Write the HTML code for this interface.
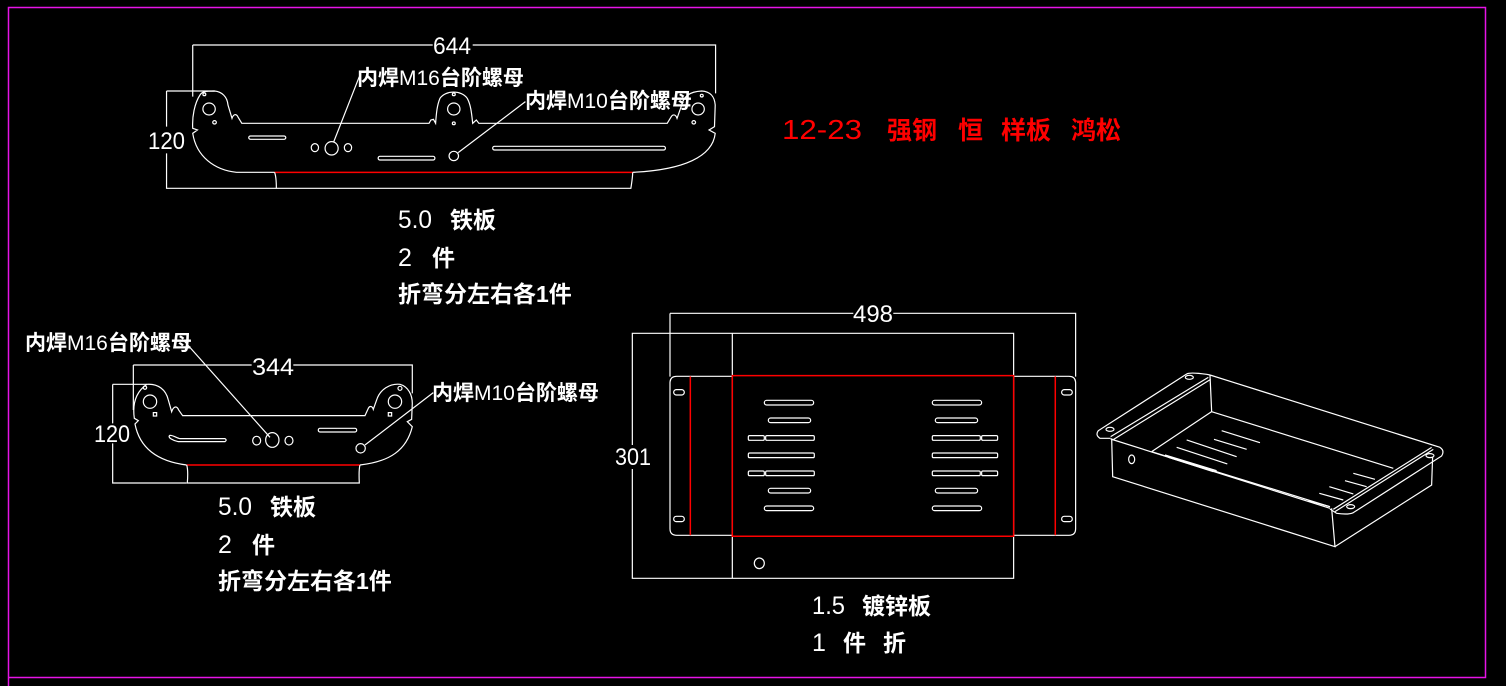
<!DOCTYPE html>
<html><head><meta charset="utf-8"><style>
html,body{margin:0;padding:0;background:#000;width:1506px;height:686px;overflow:hidden}
svg{display:block}
text{font-family:"Liberation Sans","Noto Sans CJK SC",sans-serif}
.w{fill:none;stroke:#fff;stroke-width:1.2;vector-effect:non-scaling-stroke}
.r{fill:none;stroke:#f00;stroke-width:1.5;vector-effect:non-scaling-stroke}
.t{fill:#fff;font-size:21px;font-weight:bold}
.l{font-weight:normal}
.tb{fill:#fff;font-size:23px;font-weight:bold}
.n{fill:#fff;font-size:25px;font-family:"Liberation Sans Narrow","Liberation Sans",sans-serif}
.d{fill:#fff;font-size:24px;font-family:"Liberation Sans Narrow","Liberation Sans",sans-serif}
</style></head><body>
<svg width="1506" height="686" viewBox="0 0 1506 686">
<rect x="0" y="0" width="1506" height="686" fill="#000"/>
<path d="M8.5 686 V7.5 H1485.5 V677.5 H8.5" fill="none" stroke="#e614e6" stroke-width="1.5"/>

<!-- Top plate -->
<g transform="translate(160,30) scale(0.3636,0.3333)">
<path class="w" d="M90 45 H750 M860 45 H1528 V190 M90 45 V200"/>
<path class="w" d="M18 183 H150 M18 183 V290 M18 370 V475 H320"/>
<path class="w" d="M315 427 H210 C150 420 100 380 90 310 L103 300 L90 295 C88 260 95 220 110 195 C115 185 125 183 150 183 C170 185 185 200 187 225 L198 265 C202 252 210 250 215 262 L225 280 H740 L745 270 L752 268 L758 280 C760 250 762 225 770 205 C785 180 830 180 845 205 C855 225 857 250 860 280 L870 270 L877 280 H1395 L1405 262 C1410 252 1418 252 1422 265 L1435 225 C1440 200 1455 185 1490 183 C1515 185 1525 200 1527 225 L1525 290 L1510 300 L1527 310 C1520 380 1440 420 1300 427"/>
<path class="r" d="M315 427 H1300"/>
<path class="w" d="M315 427 Q320 440 320 475 H1295 Q1300 440 1300 427"/>
<ellipse class="w" cx="135" cy="237" rx="17" ry="18"/><ellipse class="w" cx="150" cy="277" rx="5" ry="5"/><ellipse class="w" cx="122" cy="193" rx="4" ry="4"/>
<ellipse class="w" cx="808" cy="237" rx="17" ry="18"/><ellipse class="w" cx="808" cy="193" rx="4" ry="4"/><ellipse class="w" cx="808" cy="280" rx="4" ry="4"/>
<ellipse class="w" cx="1480" cy="237" rx="17" ry="18"/><ellipse class="w" cx="1490" cy="197" rx="4" ry="4"/><ellipse class="w" cx="1468" cy="277" rx="5" ry="5"/>
<rect class="w" x="244" y="318" width="102" height="10" rx="5"/>
<rect class="w" x="600" y="379" width="156" height="11" rx="5"/>
<rect class="w" x="915" y="349" width="475" height="11" rx="5"/>
<ellipse class="w" cx="426" cy="353" rx="10" ry="12"/><ellipse class="w" cx="472" cy="355" rx="18" ry="20"/><ellipse class="w" cx="517" cy="353" rx="10" ry="12"/>
<ellipse class="w" cx="808" cy="378" rx="13" ry="14"/>
<path class="w" d="M548 140 L478 335 M1005 215 L820 368"/>
</g>
<text class="d" x="433" y="54" textLength="38" lengthAdjust="spacingAndGlyphs">644</text>
<text class="d" x="148" y="149" textLength="37" lengthAdjust="spacingAndGlyphs">120</text>
<text class="t" x="357" y="85">内焊<tspan class="l">M16</tspan>台阶螺母</text>
<text class="t" x="525" y="108">内焊<tspan class="l">M10</tspan>台阶螺母</text>
<text class="n" x="398" y="228" textLength="34" lengthAdjust="spacingAndGlyphs">5.0</text><text class="tb" x="450" y="228">铁板</text>
<text class="n" x="398" y="266">2</text><text class="tb" x="432" y="266">件</text>
<text class="tb" x="398" y="302">折弯分左右各1件</text>

<text x="782" y="139" fill="#f00" font-size="28" font-family="Liberation Sans" textLength="80" lengthAdjust="spacingAndGlyphs">12-23</text>
<text x="887" y="139" fill="#f00" font-size="25" font-weight="bold">强钢</text>
<text x="958" y="139" fill="#f00" font-size="25" font-weight="bold">恒</text>
<text x="1001" y="139" fill="#f00" font-size="25" font-weight="bold">样板</text>
<text x="1071" y="139" fill="#f00" font-size="25" font-weight="bold">鸿松</text>

<!-- Second plate -->
<g transform="translate(100,350) scale(0.3333)">
<path class="w" d="M100 45 H455 M580 45 H937 V130 M100 45 V180"/>
<path class="w" d="M38 103 H140 M38 103 V220 M38 280 V399 H260"/>
<path class="w" d="M260 345 C180 335 120 300 105 222 L115 212 L103 205 C98 170 102 130 140 103 C175 100 198 120 205 150 L215 185 C220 170 230 165 236 180 L248 197 H795 L805 175 C810 165 818 170 820 178 L830 150 C840 118 870 100 900 103 C925 110 937 135 937 160 L935 208 L922 215 L937 230 C920 300 870 335 780 345"/>
<path class="r" d="M260 345 H780"/>
<path class="w" d="M260 345 Q265 360 262 399 H778 Q776 360 780 345"/>
<ellipse class="w" cx="150" cy="155" rx="20" ry="20"/><rect class="w" x="160" y="188" width="10" height="10"/><ellipse class="w" cx="135" cy="113" rx="5" ry="5"/>
<ellipse class="w" cx="885" cy="155" rx="20" ry="20"/><rect class="w" x="865" y="188" width="10" height="10"/><ellipse class="w" cx="900" cy="115" rx="6" ry="6"/>
<path class="w" d="M210 256 C220 256 230 264 240 266 H375 Q382 270 375 275 H235 C220 272 200 262 210 256 Z"/>
<rect class="w" x="655" y="235" width="115" height="11" rx="5"/>
<ellipse class="w" cx="470" cy="272" rx="12" ry="13"/><ellipse class="w" cx="517" cy="270" rx="20" ry="22"/><ellipse class="w" cx="567" cy="272" rx="12" ry="13"/>
<ellipse class="w" cx="782" cy="295" rx="14" ry="14"/>
<path class="w" d="M250 -30 L510 262 M1000 128 L795 285"/>
</g>
<text class="d" x="252" y="375" textLength="42" lengthAdjust="spacingAndGlyphs">344</text>
<text class="d" x="94" y="442" textLength="36" lengthAdjust="spacingAndGlyphs">120</text>
<text class="t" x="25" y="350">内焊<tspan class="l">M16</tspan>台阶螺母</text>
<text class="t" x="432" y="400">内焊<tspan class="l">M10</tspan>台阶螺母</text>
<text class="n" x="218" y="515" textLength="34" lengthAdjust="spacingAndGlyphs">5.0</text><text class="tb" x="270" y="515">铁板</text>
<text class="n" x="218" y="553">2</text><text class="tb" x="252" y="553">件</text>
<text class="tb" x="218" y="589">折弯分左右各1件</text>

<!-- Third plate -->
<g transform="translate(620,300) scale(0.3333)">
<path class="w" d="M150 40 H700 M820 40 H1367 V230 M150 40 V230"/>
<path class="w" d="M37 100 H1181 V835 H37 Z M337 100 V835"/>
<path class="w" d="M337 229 H170 Q150 229 150 249 V686 Q150 706 170 706 H337 M1181 229 H1347 Q1367 229 1367 249 V686 Q1367 706 1347 706 H1181"/>
<rect class="r" x="337" y="227" width="844" height="482"/>
<path class="r" d="M211 229 V706 M1306 229 V706"/>
<rect class="w" x="161" y="269" width="32" height="16" rx="8"/><rect class="w" x="161" y="649" width="32" height="16" rx="8"/>
<rect class="w" x="1325" y="269" width="32" height="16" rx="8"/><rect class="w" x="1325" y="649" width="32" height="16" rx="8"/>
<g>
<rect class="w" x="433" y="301" width="148" height="14" rx="7"/><rect class="w" x="445" y="354" width="127" height="14" rx="7"/>
<rect class="w" x="385" y="407" width="48" height="14" rx="4"/><rect class="w" x="437" y="407" width="146" height="14" rx="4"/>
<rect class="w" x="385" y="459" width="198" height="14" rx="4"/>
<rect class="w" x="385" y="513" width="48" height="14" rx="4"/><rect class="w" x="437" y="513" width="146" height="14" rx="4"/>
<rect class="w" x="445" y="565" width="127" height="14" rx="7"/><rect class="w" x="433" y="618" width="148" height="14" rx="7"/>
<rect class="w" x="937" y="301" width="148" height="14" rx="7"/><rect class="w" x="946" y="354" width="127" height="14" rx="7"/>
<rect class="w" x="937" y="407" width="144" height="14" rx="4"/><rect class="w" x="1085" y="407" width="48" height="14" rx="4"/>
<rect class="w" x="937" y="459" width="196" height="14" rx="4"/>
<rect class="w" x="937" y="513" width="144" height="14" rx="4"/><rect class="w" x="1085" y="513" width="48" height="14" rx="4"/>
<rect class="w" x="946" y="565" width="127" height="14" rx="7"/><rect class="w" x="937" y="618" width="148" height="14" rx="7"/>
</g>
<ellipse class="w" cx="418" cy="790" rx="15" ry="16"/>
</g>
<text class="d" x="853" y="322" textLength="40" lengthAdjust="spacingAndGlyphs">498</text>
<rect x="614" y="445" width="36" height="24" fill="#000"/>
<text class="d" x="615" y="465" textLength="36" lengthAdjust="spacingAndGlyphs">301</text>
<text class="n" x="812" y="614" textLength="33" lengthAdjust="spacingAndGlyphs">1.5</text><text class="tb" x="862" y="614">镀锌板</text>
<text class="n" x="812" y="651">1</text><text class="tb" x="843" y="651">件</text><text class="tb" x="883" y="651">折</text>

<!-- Isometric box -->
<g transform="translate(1090,360) scale(0.3333)">
<path class="w" d="M62 235 L30 235 Q15 225 25 212 L290 42 Q300 36 350 43 L360 45"/>
<path class="w" d="M62 230 L355 52 M68 240 L362 58"/>
<path class="w" d="M360 45 L1050 262 Q1065 272 1055 288 L790 458 Q775 465 740 460 L720 447"/>
<path class="w" d="M360 45 L365 155 L910 325 M365 155 L185 275 M185 275 L720 440"/>
<path class="w" d="M62 237 L720 445 M65 235 L68 350 L735 560 L725 445 M735 560 L1025 375 L1028 290 M735 455 L1030 268 M730 448 L1025 262"/>
<ellipse class="w" cx="125" cy="298" rx="9" ry="13"/>
<ellipse class="w" cx="60" cy="208" rx="12" ry="6"/><ellipse class="w" cx="298" cy="52" rx="12" ry="6"/>
<ellipse class="w" cx="1020" cy="287" rx="12" ry="6"/><ellipse class="w" cx="782" cy="440" rx="12" ry="6"/>
<path class="w" d="M395 212 L510 248 M372 238 L470 268 M290 240 L440 290 M260 262 L412 312 M225 285 L380 332 M235 292 L370 335"/>
<path class="w" d="M790 340 L855 358 M765 362 L830 380 M718 380 L790 402 M688 400 L760 420 M655 422 L720 440"/>
</g>
</svg>
</body></html>
